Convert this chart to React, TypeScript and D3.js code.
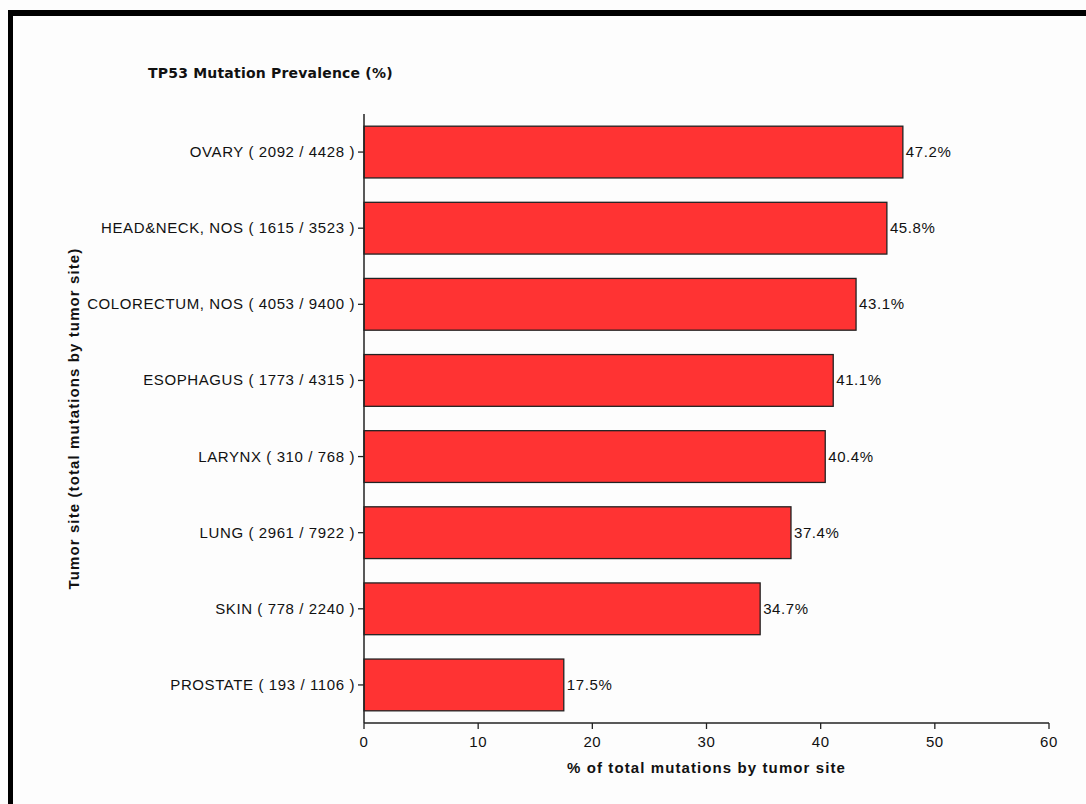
import React from "react";
import * as d3 from "d3";

const categories = [
  "OVARY ( 2092 / 4428 )",
  "HEAD&NECK, NOS ( 1615 / 3523 )",
  "COLORECTUM, NOS ( 4053 / 9400 )",
  "ESOPHAGUS ( 1773 / 4315 )",
  "LARYNX ( 310 / 768 )",
  "LUNG ( 2961 / 7922 )",
  "SKIN ( 778 / 2240 )",
  "PROSTATE ( 193 / 1106 )",
];
const values = [47.2, 45.8, 43.1, 41.1, 40.4, 37.4, 34.7, 17.5];
const xTicks = [0, 10, 20, 30, 40, 50, 60];
const title = "TP53 Mutation Prevalence (%)";
const xTitle = "% of total mutations by tumor site";
const yTitle = "Tumor site (total mutations by tumor site)";

const W = 1086;
const H = 804;
const left = 364;
const right = 1049;
const top = 114;
const bottom = 723;

export default function App() {
  const x = d3.scaleLinear().domain([0, 60]).range([left, right]);
  const y = d3
    .scaleBand<string>()
    .domain(categories)
    .range([top, bottom])
    .paddingInner(0.32)
    .paddingOuter(0.16);
  const labelFont = "'Liberation Sans', Arial, sans-serif";
  return (
    <svg
      width={W}
      height={H}
      style={{ position: "absolute", left: 0, top: 0, background: "#fdfdfd" }}
    >
      <rect x={0} y={0} width={W} height={H} fill="#fdfdfd" />
      {/* frame */}
      <line x1={10.5} y1={10} x2={10.5} y2={H} stroke="#000" strokeWidth={5} />
      <line x1={8} y1={13} x2={W} y2={13} stroke="#000" strokeWidth={6} />
      <text
        x={148}
        y={78}
        fontFamily="'DejaVu Sans', Verdana, sans-serif"
        fontWeight="bold"
        fontSize={14}
        letterSpacing={0.2}
        fill="#111"
      >
        {title}
      </text>
      {categories.map((c, i) => (
        <g key={c}>
          <rect
            x={x(0)}
            y={y(c)!}
            width={x(values[i]) - x(0)}
            height={y.bandwidth()}
            fill="#ff3333"
            stroke="#222"
            strokeWidth={1.3}
          />
          <text
            x={x(values[i]) + 3}
            y={y(c)! + y.bandwidth() / 2 + 5}
            fontFamily={labelFont}
            fontSize={15}
            letterSpacing={0.6}
            fill="#111"
          >
            {values[i].toFixed(1)}%
          </text>
          <line
            x1={x(0) - 6}
            x2={x(0)}
            y1={y(c)! + y.bandwidth() / 2}
            y2={y(c)! + y.bandwidth() / 2}
            stroke="#222"
            strokeWidth={1.3}
          />
          <text
            x={x(0) - 9}
            y={y(c)! + y.bandwidth() / 2 + 5}
            textAnchor="end"
            fontFamily={labelFont}
            fontSize={15}
            letterSpacing={0.6}
            fill="#111"
          >
            {c}
          </text>
        </g>
      ))}
      <line x1={left} x2={left} y1={top} y2={bottom} stroke="#222" strokeWidth={1.5} />
      <line x1={left} x2={right} y1={bottom} y2={bottom} stroke="#222" strokeWidth={1.5} />
      {xTicks.map((t) => (
        <g key={t}>
          <line x1={x(t)} x2={x(t)} y1={bottom} y2={bottom + 6} stroke="#222" strokeWidth={1.3} />
          <text
            x={x(t)}
            y={bottom + 24}
            textAnchor="middle"
            fontFamily={labelFont}
            fontSize={15}
            letterSpacing={0.6}
            fill="#111"
          >
            {t}
          </text>
        </g>
      ))}
      <text
        x={(left + right) / 2}
        y={773}
        textAnchor="middle"
        fontFamily={labelFont}
        fontWeight="bold"
        fontSize={15}
        letterSpacing={1.1}
        fill="#111"
      >
        {xTitle}
      </text>
      <text
        transform={`translate(79, ${(top + bottom) / 2}) rotate(-90)`}
        textAnchor="middle"
        fontFamily={labelFont}
        fontWeight="bold"
        fontSize={15}
        letterSpacing={1.1}
        fill="#111"
      >
        {yTitle}
      </text>
    </svg>
  );
}
